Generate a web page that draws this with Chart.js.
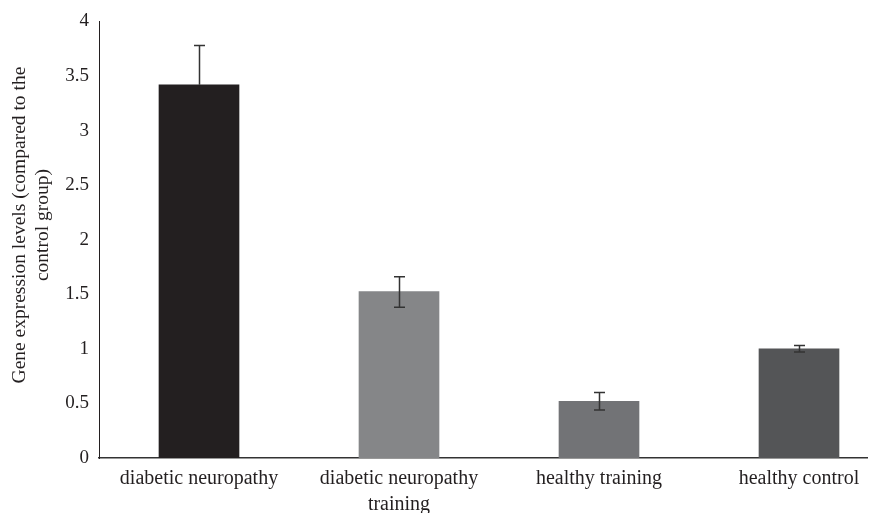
<!DOCTYPE html>
<html>
<head>
<meta charset="utf-8">
<script src="https://cdn.jsdelivr.net/npm/chart.js@4"></script>
<style>
  html, body { margin: 0; padding: 0; background: #fff; }
  #wrap { width: 884px; height: 513px; }
</style>
</head>
<body>
<div id="wrap"><canvas id="myChart" width="884" height="513"></canvas></div>
<script>
// data
var groups = [["diabetic neuropathy"], ["diabetic neuropathy", "training"], ["healthy training"], ["healthy control"]];
var values = [3.42, 1.525, 0.52, 1.0];
var errHigh = [3.78, 1.66, 0.60, 1.03];
var errLow = [3.06, 1.38, 0.44, 0.97];
var barColors = ["#231f20", "#858688", "#727376", "#545557"];
var yTicks = [0, 0.5, 1, 1.5, 2, 2.5, 3, 3.5, 4];

var points = [];
for (var i = 0; i < values.length; i++) {
    points.push({ x: i, y: values[i] });
}

// draws the error whiskers on top of the bars
var errorBars = {
    id: "errorBars",
    afterDatasetsDraw: function(chart) {
        var ctx = chart.ctx;
        var xs = chart.scales.x, ys = chart.scales.y;
        ctx.save();
        ctx.strokeStyle = "#333";
        ctx.lineWidth = 1.5;
        for (var i = 0; i < values.length; i++) {
            var cx = Math.round(xs.getPixelForValue(i)) + 0.5;
            var top = ys.getPixelForValue(errHigh[i]);
            var bot = ys.getPixelForValue(errLow[i]);
            // lower half of the first whisker is hidden in the black bar
            if (i == 0) bot = ys.getPixelForValue(values[i]);
            ctx.beginPath();
            ctx.moveTo(cx, top); ctx.lineTo(cx, bot);
            ctx.moveTo(cx - 5.5, top); ctx.lineTo(cx + 5.5, top);
            if (i > 0) { ctx.moveTo(cx - 5.5, bot); ctx.lineTo(cx + 5.5, bot); }
            ctx.stroke();
        }
        ctx.restore();
    }
};

const myChart = new Chart("myChart", {
    type: "bar",
    data: {
        datasets: [{
            data: points,
            backgroundColor: barColors,
            barThickness: 80
        }]
    },
    options: {
        responsive: false,
        animation: false,
        layout: { padding: { top: 20, right: 17, left: 8, bottom: 0 } },
        plugins: { legend: { display: false }, tooltip: { enabled: false } },
        scales: {
            x: {
                type: "linear",
                offset: false,
                min: -0.5,
                max: 3.34,
                grid: { display: false, drawTicks: false, offset: false },
                border: { color: "#333", width: 1.5 },
                afterBuildTicks: function(scale) {
                    scale.ticks = groups.map(function(g, i) { return { value: i }; });
                },
                afterFit: function(scale) { scale.height = 55; },
                ticks: {
                    autoSkip: false,
                    maxRotation: 0,
                    padding: 8,
                    color: "#231f20",
                    font: { family: "Liberation Serif", size: 20, lineHeight: 1.3 },
                    callback: function(v) { return groups[v]; }
                }
            },
            y: {
                min: 0,
                max: 4,
                grid: { display: false, drawTicks: false },
                border: { color: "#231f20", width: 1 },
                afterBuildTicks: function(scale) {
                    scale.ticks = yTicks.map(function(v) { return { value: v }; });
                },
                afterFit: function(scale) { scale.width = 91; },
                ticks: {
                    padding: 10,
                    color: "#231f20",
                    font: { family: "Liberation Serif", size: 19 },
                    callback: function(v) { return String(v); }
                },
                title: {
                    display: true,
                    text: ["      Gene expression levels (compared to the", "      control group)"],
                    color: "#231f20",
                    font: { family: "Liberation Serif", size: 19.5, lineHeight: 1.2 },
                    padding: { top: 0, bottom: 4 }
                }
            }
        }
    },
    plugins: [errorBars]
});
</script>
</body>
</html>
